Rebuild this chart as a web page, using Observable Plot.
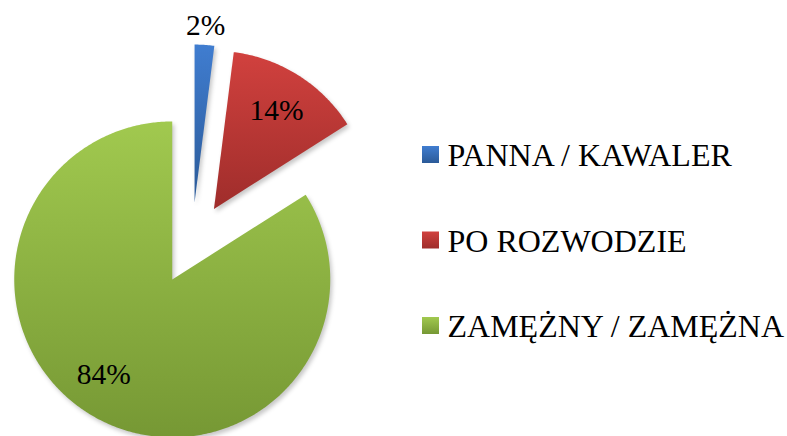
<!DOCTYPE html>
<html><head><meta charset="utf-8">
<script src="https://cdn.jsdelivr.net/npm/d3@7"></script>
<script src="https://cdn.jsdelivr.net/npm/@observablehq/plot@0.6"></script>
<style>
body{margin:0;background:#fff}
svg{display:block}
svg text{font-family:"Liberation Serif","Times New Roman",serif !important}
g[aria-label="line"] path{filter:drop-shadow(2px 3px 2px rgba(0,0,0,0.22))}
</style>
</head><body><div id="chart"></div>
<script>
// ---- data ----
const categories = ["PANNA / KAWALER", "PO ROZWODZIE", "ZAMĘŻNY / ZAMĘŻNA"];
const values = [2, 14, 84];
const labels = ["2%", "14%", "84%"];
const colorTop = ["#407dd0", "#d1413e", "#a1c94f"];
const colorBottom = ["#2b5a98", "#9f2d2b", "#769834"];

// ---- layout ----
const W = 787, H = 436;
const R = 158, CX = 191.5, CY = 243;      // pie radius and (unexploded) centre in px
const EXPLODE = 41 / R;                   // explosion offset in radius units
const FONT = '"Liberation Serif","Times New Roman",serif';
const labelAngleNudge = [0, 0, 7 * Math.PI / 180];

const total = d3.sum(values);
let acc = 0;
const slices = values.map((v, i) => {
  const a0 = acc / total * 2 * Math.PI; acc += v;
  const a1 = acc / total * 2 * Math.PI;
  const mid = (a0 + a1) / 2;
  return {i, v, a0, a1, mid, ox: EXPLODE * Math.sin(mid), oy: EXPLODE * Math.cos(mid)};
});

function slicePath(s) {
  const pts = [{x: s.ox, y: s.oy}];
  const n = Math.max(4, Math.ceil((s.a1 - s.a0) / 0.01));
  for (let k = 0; k <= n; k++) {
    const a = s.a0 + (s.a1 - s.a0) * k / n;
    pts.push({x: s.ox + Math.sin(a), y: s.oy + Math.cos(a)});
  }
  pts.push({x: s.ox, y: s.oy});
  return pts;
}

const labelData = slices.map(s => {
  const r = s.v / total < 0.05 ? 1.12 : 0.74;
  const a = s.mid + labelAngleNudge[s.i];
  return {x: s.ox + r * Math.sin(a), y: s.oy + r * Math.cos(a), text: labels[s.i]};
});

const ux = px => (px - CX) / R;
const uy = py => (CY - py) / R;
const legendData = categories.map((c, i) => {
  const cy = 154.5 + i * 85.5;
  return {c, i, x1: ux(422), x2: ux(439), y1: uy(cy - 8.5), y2: uy(cy + 8.5), tx: ux(447), ty: uy(cy + 1)};
});

const marks = [
  ...slices.map(s => Plot.line(slicePath(s), {x: "x", y: "y", fill: `url(#grad${s.i})`, stroke: "none", curve: "linear"})),
  Plot.text(labelData, {x: "x", y: "y", text: "text", fontSize: 29.5, fontFamily: FONT, fill: "#000"}),
  ...legendData.map(d => Plot.rect([d], {x1: "x1", x2: "x2", y1: "y1", y2: "y2", fill: `url(#grad${d.i})`})),
  Plot.text(legendData, {x: "tx", y: "ty", text: "c", textAnchor: "start", fontSize: 32, fontFamily: FONT, fill: "#000"})
];

const chart = Plot.plot({
  width: W, height: H,
  margin: 0,
  style: {background: "#fff", overflow: "visible", fontFamily: FONT},
  x: {domain: [ux(0), ux(W)], range: [0, W], axis: null},
  y: {domain: [uy(H), uy(0)], range: [H, 0], axis: null},
  marks
});

const defs = document.createElementNS("http://www.w3.org/2000/svg", "defs");
defs.innerHTML = categories.map((c, i) =>
  `<linearGradient id="grad${i}" x1="0" y1="0" x2="0" y2="1">
     <stop offset="0" stop-color="${colorTop[i]}"/>
     <stop offset="1" stop-color="${colorBottom[i]}"/>
   </linearGradient>`).join("");
chart.insertBefore(defs, chart.firstChild);

document.getElementById("chart").appendChild(chart);
</script>
</body></html>
